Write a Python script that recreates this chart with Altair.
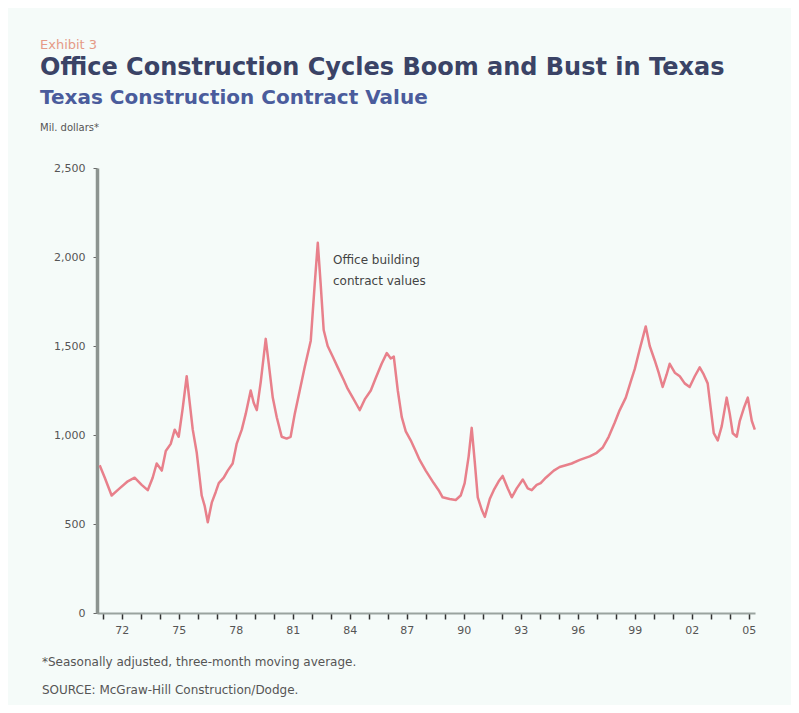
import altair as alt
import pandas as pd

# ---- data ----
years = [1970.84, 1971.11, 1971.47, 1971.89, 1972.32, 1972.68, 1973.05, 1973.37, 1973.63, 1973.84,
         1974.11, 1974.32, 1974.58, 1974.79, 1975.00, 1975.21, 1975.42, 1975.58, 1975.74, 1975.95,
         1976.21, 1976.37, 1976.53, 1976.74, 1976.95, 1977.11, 1977.37, 1977.58, 1977.84, 1978.05,
         1978.32, 1978.53, 1978.79, 1978.95, 1979.11, 1979.32, 1979.58, 1979.74, 1979.95, 1980.16,
         1980.42, 1980.68, 1980.89, 1981.11, 1981.37, 1981.63, 1981.95, 1982.16, 1982.32, 1982.47,
         1982.63, 1982.84, 1983.11, 1983.37, 1983.68, 1983.89, 1984.16, 1984.37, 1984.53, 1984.79,
         1985.11, 1985.37, 1985.68, 1985.95, 1986.16, 1986.32, 1986.53, 1986.74, 1986.95, 1987.21,
         1987.47, 1987.68, 1988.00, 1988.42, 1988.68, 1988.89, 1989.26, 1989.58, 1989.84, 1990.05,
         1990.26, 1990.42, 1990.58, 1990.74, 1990.95, 1991.11, 1991.37, 1991.58, 1991.84, 1992.05,
         1992.32, 1992.53, 1992.79, 1993.11, 1993.37, 1993.58, 1993.84, 1994.05, 1994.32, 1994.74,
         1995.05, 1995.37, 1995.68, 1996.11, 1996.63, 1997.00, 1997.32, 1997.63, 1997.95, 1998.21,
         1998.53, 1998.79, 1999.00, 1999.26, 1999.58, 1999.79, 2000.05, 2000.26, 2000.47, 2000.68,
         2000.84, 2001.11, 2001.37, 2001.63, 2001.89, 2002.16, 2002.42, 2002.63, 2002.84, 2003.00,
         2003.16, 2003.37, 2003.58, 2003.84, 2004.00, 2004.16, 2004.37, 2004.53, 2004.74, 2004.95,
         2005.16, 2005.32]

office_value = [830, 760, 660, 700, 740, 760, 720, 690, 760, 840,
                800, 910, 950, 1030, 990, 1150, 1330, 1180, 1030, 900,
                660, 600, 510, 620, 680, 730, 760, 800, 840, 950,
                1030, 1120, 1250, 1180, 1140, 1300, 1540, 1400, 1210, 1100,
                990, 980, 990, 1120, 1250, 1380, 1530, 1850, 2080, 1850,
                1590, 1500, 1440, 1380, 1310, 1260, 1210, 1170, 1140, 1200,
                1250, 1320, 1400, 1460, 1430, 1440, 1250, 1100, 1020, 970,
                910, 860, 800, 730, 690, 650, 640, 635, 660, 730,
                880, 1040, 850, 650, 580, 540, 640, 690, 740, 770,
                700, 650, 700, 750, 700, 690, 720, 730, 760, 800,
                820, 830, 840, 860, 880, 900, 930, 990, 1070, 1140,
                1210, 1300, 1370, 1480, 1610, 1500, 1420, 1350, 1270, 1340,
                1400, 1350, 1330, 1290, 1270, 1330, 1380, 1340, 1290, 1150,
                1010, 970, 1050, 1210, 1120, 1010, 990, 1080, 1150, 1210,
                1080, 1030]

tick_years = list(range(1971, 2006))
label_years = list(range(1972, 2006, 3))
y_ticks = [0, 500, 1000, 1500, 2000, 2500]

exhibit_text = "Exhibit 3"
title_text = "Office Construction Cycles Boom and Bust in Texas"
subtitle_text = "Texas Construction Contract Value"
unit_text = "Mil. dollars*"
annotation_lines = ["Office building", "contract values"]
footnote_lines = ["*Seasonally adjusted, three-month moving average.",
                  "SOURCE: McGraw-Hill Construction/Dodge."]

df = pd.DataFrame({"year": years, "value": office_value})

label_expr = "indexof([" + ",".join(str(y) for y in label_years) + "], datum.value) >= 0 ? substring(toString(datum.value), 2, 4) : ''"

line = alt.Chart(df).mark_line(color="#e8808b", strokeWidth=2.5, strokeJoin="round").encode(
    x=alt.X("year:Q",
            scale=alt.Scale(domain=[1970.7, 2005.33], nice=False, zero=False),
            axis=alt.Axis(values=tick_years, labelExpr=label_expr, title=None, grid=False,
                          domainColor="#9aa39f", domainWidth=2, tickColor="#333333",
                          tickSize=6, tickWidth=1.5, labelFont="DejaVu Sans", labelFontSize=11,
                          labelColor="#555555", labelPadding=5, labelFlush=False)),
    y=alt.Y("value:Q",
            scale=alt.Scale(domain=[0, 2500], nice=False),
            axis=alt.Axis(values=y_ticks, format=",.0f", title=None, grid=False,
                          domainColor="#8c9490", domainWidth=3.5, tickColor="#666666",
                          tickSize=4, labelFont="DejaVu Sans", labelFontSize=11,
                          labelColor="#555555", labelPadding=8)),
)

def txt(s, x, y, size, color, weight="normal"):
    return alt.Chart(pd.DataFrame({"t": [s]})).mark_text(
        align="left", baseline="middle", font="DejaVu Sans", fontSize=size,
        fontWeight=weight, color=color
    ).encode(text="t:N", x=alt.value(x), y=alt.value(y))

texts = [
    txt(exhibit_text, -57, -123, 13, "#e59a86"),
    txt(title_text, -57, -100, 24, "#3a4366", "bold"),
    txt(subtitle_text, -57, -70, 20, "#4a5c9c", "bold"),
    txt(unit_text, -57, -40, 10, "#555555"),
    txt(annotation_lines[0], 236, 92, 12, "#444444"),
    txt(annotation_lines[1], 236, 113, 12, "#444444"),
    txt(footnote_lines[0], -55, 494, 12, "#555555"),
    txt(footnote_lines[1], -55, 522, 12, "#555555"),
]

chart = alt.layer(line, *texts).properties(
    width=658, height=445,
    autosize=alt.AutoSizeParams(type="none"),
    padding={"left": 89, "top": 160, "right": 36, "bottom": 92},
    background="#f5fbf9",
).configure_view(stroke=None)

chart.save("out.html", embed_options={"renderer": "svg", "actions": False})
